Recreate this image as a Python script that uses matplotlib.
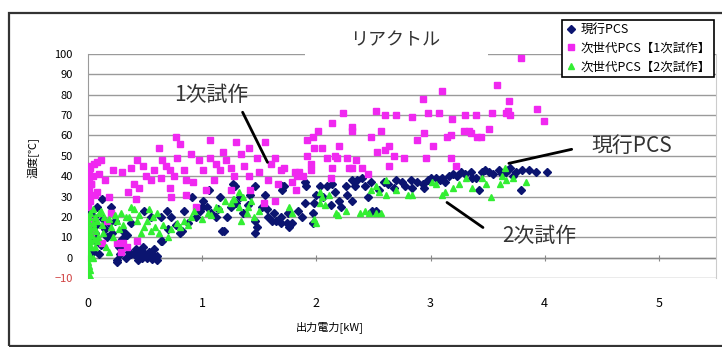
import matplotlib
matplotlib.use("Agg")
import matplotlib.pyplot as plt
from matplotlib.patches import Rectangle

plt.rcParams['font.family'] = ['Noto Sans CJK JP', 'DejaVu Sans']

# 現行PCS
cur_x = [0.0, 0.01, 0.02, 0.03, 0.04, 0.04, 0.05, 0.06, 0.07, 0.08, 0.1, 0.12, 0.13, 0.15, 0.18,
         0.21, 0.24, 0.25, 0.25, 0.27, 0.3, 0.31, 0.31, 0.34, 0.36, 0.38, 0.38, 0.4, 0.42, 0.43,
         0.45, 0.47, 0.49, 0.5, 0.52, 0.55, 0.56, 0.56, 0.58, 0.6, 0.64, 0.65, 0.64, 0.69, 0.73,
         0.81, 0.82, 0.84, 0.88, 0.91, 0.95, 1.0, 1.01, 1.04, 1.08, 1.12, 1.16, 1.17, 1.19, 1.22,
         1.25, 1.27, 1.29, 1.3, 1.36, 1.42, 1.46, 1.46, 1.46, 1.48, 1.52, 1.55, 1.58, 1.61, 1.65,
         1.69, 1.7, 1.72, 1.7, 1.69, 1.74, 1.79, 1.75, 1.76, 1.87, 1.9, 1.91, 1.97, 1.97, 1.9,
         1.98, 2.0, 2.03, 2.09, 2.13, 2.14, 2.2, 2.22, 2.26, 2.27, 2.31, 2.31, 2.36, 2.4, 2.43,
         2.45, 2.49, 2.52, 2.55, 2.59, 2.63, 2.68, 2.75, 2.83, 2.84, 2.88, 2.93, 2.94, 3.0, 3.05,
         3.1, 3.16, 3.2, 3.27, 3.35, 3.36, 3.4, 3.42, 3.45, 3.51, 3.55, 3.6, 3.63, 3.66, 3.7,
         3.75, 3.79, 3.8, 3.86, 3.92, 4.02,
         0.02, 0.07, 0.11, 0.17, 0.2, 0.28, 0.33, 0.44, 0.48, 0.53, 0.6, 0.7, 0.77, 0.98, 1.06,
         1.14, 1.33, 1.4, 1.57, 1.63, 1.84, 2.06, 2.16, 2.34, 2.48, 2.7, 2.78, 2.98, 3.08, 3.13,
         3.23, 3.3, 3.48, 3.68, 3.72]
cur_y = [5, 15, 22, 3, 10, 3, 20, 12, 8, 25, 2, 29, 19, 14, 17,
         12, 18, -1, -2, 5, 9, 13, 6, 11, 3, 2, 17, 2, 4, 1,
         3, 0, 23, 2, 0, 20, 2, -0.5, 4, 1, 8, 8, 20, 23, 20,
         12, 13, 23, 17, 30, 20, 25, 28, 25, 22, 20, 30, 13, 13, 20,
         25, 36, 35, 27, 22, 31, 35, 18, 12, 15, 25, 31, 20, 18, 18,
         20, 35, 35, 33, 17, 17, 17, 22, 15, 20, 37, 35, 22, 17, 27,
         27, 31, 35, 35, 26, 36, 28, 25, 35, 31, 38, 28, 38, 39, 35,
         30, 23, 23, 33, 37, 36, 34, 37, 38, 34, 37, 36, 34, 39, 39,
         39, 40, 41, 42, 42, 39, 39, 33, 42, 42, 41, 43, 41, 42, 44,
         42, 33, 43, 43, 42, 42,
         18, 16, 6, 10, 25, 2, 0, -1, 5, 3, -1, 14, 16, 23, 33,
         24, 30, 26, 24, 22, 23, 30, 32, 35, 37, 38, 35, 38, 38, 37,
         40, 41, 43, 43, 40]

# 次世代PCS【1次試作】
gen1_x = [0.0, 0.0, 0.0, 0.0, 0.0, 0.0, 0.0, 0.01, 0.01, 0.01, 0.02, 0.02, 0.03, 0.04, 0.05, 0.06,
          0.01, 0.11, 0.1, 0.03, 0.08, 0.18, 0.3, 0.38, 0.43, 0.4, 0.45, 0.42, 0.51, 0.58,
          0.62, 0.65, 0.64, 0.72, 0.77, 0.81, 0.78, 0.84, 0.86, 0.9, 0.97, 1.01, 1.07, 1.07,
          1.12, 1.16, 1.21, 1.25, 1.3, 1.34, 1.41, 1.48, 1.55, 1.6, 1.64, 1.69, 1.03, 0.72,
          0.73, 0.86, 0.95, 1.25, 1.41, 1.42, 1.54, 1.64, 0.25, 0.29, 0.31, 0.43, 0.12, 0.34,
          0.2, 0.17,
          1.72, 1.81, 1.85, 1.83, 1.79, 1.82, 1.92, 1.97, 2.01, 1.98, 1.92, 1.95, 1.95, 2.05,
          2.09, 2.14, 2.23, 2.16, 2.18, 2.14, 2.13, 2.27, 2.29, 2.31, 2.31, 2.31, 2.4, 2.52,
          2.48, 2.53, 2.57, 2.6, 2.6, 2.64, 2.64, 2.7, 2.77, 2.84, 2.93, 2.94, 2.96, 2.98,
          3.07, 3.1, 3.14, 3.18, 3.18, 3.19, 3.29, 3.34, 3.4, 3.41,
          3.79, 3.58, 3.69, 3.68, 3.66, 3.7, 3.54, 3.51, 3.44, 3.35, 3.93, 3.99,
          0.55, 0.68, 0.75, 0.92, 1.1, 1.18, 1.28, 1.37, 1.5, 1.58, 1.66, 1.88, 2.2, 2.35,
          2.45, 2.68, 2.88, 3.02, 3.22, 3.3, 0.08, 0.02, 0.03, 0.15, 0.22, 0.35, 0.48]
gen1_y = [45, 40, 35, 30, 25, 20, 15, 42, 38, 33, 28, 44, 36, 40, 46, 31,
          44, 48, 41, 36, 32, 30, 42, 44, 48, 36, 34, 29, 40, 43,
          54, 48, 39, 43, 59, 56, 49, 43, 38, 51, 48, 43, 58, 49,
          46, 43, 48, 44, 57, 51, 54, 49, 57, 46, 49, 43, 33, 34,
          30, 31, 25, 33, 40, 33, 27, 28, 7, 3, 7, 8, 7, 5,
          22, 18,
          44, 42, 42, 40, 37, 33, 58, 59, 62, 54, 50, 46, 43, 54,
          49, 66, 71, 50, 49, 44, 39, 49, 44, 64, 62, 44, 44, 72,
          59, 52, 62, 70, 53, 55, 45, 70, 49, 69, 78, 61, 49, 71,
          71, 82, 59, 60, 49, 68, 62, 62, 70, 59,
          98, 85, 77, 72, 71, 70, 71, 63, 59, 61, 73, 67,
          38, 45, 40, 37, 38, 52, 40, 45, 42, 38, 36, 40, 55, 48,
          41, 50, 58, 55, 45, 70, 47, 18, 12, 38, 43, 32, 45]

# 次世代PCS【2次試作】
gen2_x = [0.0, 0.0, 0.0, 0.0, 0.0, 0.0, 0.0, 0.0, 0.0, 0.0, 0.0, 0.01, 0.01, 0.01, 0.02, 0.02,
          0.02, 0.03, 0.03, 0.03, 0.04, 0.04, 0.05, 0.05, 0.06, 0.07, 0.08, 0.09, 0.1, 0.11,
          0.12, 0.14, 0.16, 0.18, 0.2, 0.22, 0.25, 0.27, 0.29, 0.33, 0.38, 0.4, 0.43, 0.46,
          0.49, 0.53, 0.55, 0.59, 0.6, 0.62, 0.66, 0.7, 0.78, 0.81, 0.84, 0.88, 0.93, 1.0,
          1.05, 1.12, 1.16, 1.25, 1.27, 1.28, 1.32, 1.32, 1.34, 1.39, 1.4, 1.45, 1.5, 1.76,
          1.79, 1.98, 2.0, 2.03, 2.05, 2.03, 2.11, 2.17, 2.19, 2.26, 2.38, 2.46, 2.52, 2.57,
          2.52, 2.55, 2.61, 2.61, 2.8, 2.84, 3.01, 3.1, 3.13, 3.2, 3.31, 3.36, 3.49, 3.53,
          3.61, 3.63, 3.65, 3.66, 3.84,
          0.0, 0.0, 0.0, 0.01, 0.02, 0.04, 0.06, 0.08, 0.13, 0.18, 0.24, 0.31, 0.36, 0.45,
          0.52, 0.57, 0.73, 0.9, 1.08, 1.2, 1.36, 1.43, 2.08, 2.43, 2.48, 2.7, 3.05, 3.25,
          3.45, 3.72]
gen2_y = [-10, -8, -5, -2, 0, 3, 6, 9, 12, 15, 18, 20, -4, 2, 8, 14,
          22, -10, 5, 11, 17, 24, 9, 15, 20, 13, 18, 10, 22, 23,
          16, 20, 5, 3, 15, 10, 18, 14, 22, 20, 25, 24, 18, 12,
          15, 24, 13, 15, 22, 12, 16, 10, 17, 15, 18, 16, 23, 19,
          22, 25, 24, 27, 29, 29, 32, 25, 18, 22, 25, 20, 23, 25,
          22, 19, 17, 32, 30, 27, 31, 22, 21, 23, 22, 22, 22, 22,
          35, 32, 38, 31, 31, 31, 37, 31, 32, 34, 39, 34, 36, 30,
          36, 40, 44, 38, 37,
          -7, 1, 10, 5, -6, 0, 5, 8, 12, 19, 21, 16, 20, 21,
          18, 20, 14, 20, 21, 28, 30, 28, 26, 23, 33, 33, 36, 36,
          39, 39]

labels = ['現行PCS', '次世代PCS【1次試作】', '次世代PCS【2次試作】']
yticks = [-10, 0, 10, 20, 30, 40, 50, 60, 70, 80, 90, 100]
xticks = [0, 1, 2, 3, 4, 5]

fig = plt.figure(figsize=(7.22, 3.47), dpi=100)
ax = fig.add_axes([88/722, 1-278/347, 628/722, 224/347])

ax.plot(cur_x, cur_y, 'D', color='#0b1470', markersize=4.2, label=labels[0], zorder=3)
ax.plot(gen1_x, gen1_y, 's', color='#f028f0', markersize=4.0, label=labels[1], zorder=3)
ax.plot(gen2_x, gen2_y, '^', color='#33ee33', markersize=4.8, label=labels[2], zorder=3)

ax.set_xlim(0, 5.5)
ax.set_ylim(-10, 100)
ax.set_yticks(yticks)
ax.set_xticks(xticks)
ax.grid(axis='y', color='#9a9a9a', lw=1)
ax.set_axisbelow(True)
ax.tick_params(axis='y', length=0, pad=11, labelsize=8)
ax.tick_params(axis='x', length=0, pad=14, labelsize=9)
ax.get_yticklabels()[0].set_color('#d04040')
for s in ['top', 'bottom']:
    ax.spines[s].set_visible(False)
ax.spines['left'].set_color('#9a9a9a')
ax.spines['right'].set_color('#cccccc')

# horizontal axis drawn at y=0 with small tick marks
ax.axhline(0, color='#888888', lw=1, zorder=1)
sec = ax.secondary_xaxis(10/110)
sec.set_xticks(xticks)
sec.tick_params(direction='inout', length=5, color='#888888', labelbottom=False)
sec.spines['bottom'].set_visible(False)

# callouts
line_kw = dict(arrowstyle='-', color='black', lw=2, shrinkA=0, shrinkB=0)
ax.annotate('', xy=(1.572, 46.8), xytext=(1.354, 71.4), arrowprops=line_kw)
ax.text(1.083, 79.8, '1次試作', fontsize=15, color='#333333', ha='center', va='center')
ax.annotate('', xy=(3.686, 46.3), xytext=(4.236, 53.2), arrowprops=line_kw)
ax.text(4.76, 54.7, '現行PCS', fontsize=15, color='#333333', ha='center', va='center')
ax.annotate('', xy=(3.144, 27.1), xytext=(3.459, 14.8), arrowprops=line_kw)
ax.text(3.956, 10.8, '2次試作', fontsize=15, color='#333333', ha='center', va='center')

# title with white area hiding the top gridline
fig.patches.append(Rectangle((305/722, 1-59/347), 183/722, 35/347, transform=fig.transFigure,
                             facecolor='white', edgecolor='none', zorder=1))
fig.text(395/722, 1-40/347, 'リアクトル', fontsize=13, color='#333333', ha='center', va='center', zorder=2)

leg = fig.legend(loc='upper left', bbox_to_anchor=(562/722, 1-20/347), fontsize=9,
                 frameon=True, fancybox=False, edgecolor='black', framealpha=1,
                 borderpad=0.25, labelspacing=0.45, handletextpad=0.2, handlelength=1.0,
                 borderaxespad=0)
leg.get_frame().set_linewidth(1.2)
leg.set_zorder(5)

fig.text(330/722, 1-327/347, '出力電力[kW]', fontsize=8, ha='center', va='center')
fig.text(33/722, 1-158/347, '温度[℃]', fontsize=8, rotation=90, ha='center', va='center')

# outer chart border
fig.patches.append(Rectangle((9/722, 1/347), 1.0, 333/347, transform=fig.transFigure,
                             facecolor='none', edgecolor='#333333', lw=1.6, zorder=0))

fig.savefig('out.png', dpi=100)
